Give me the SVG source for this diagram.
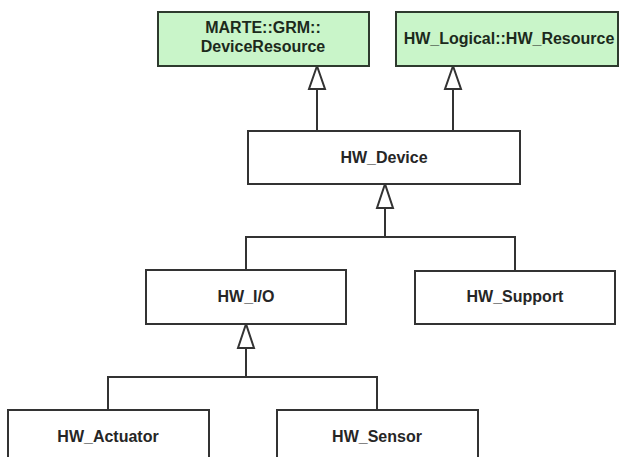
<svg xmlns="http://www.w3.org/2000/svg" width="621" height="457" viewBox="0 0 621 457">
<style>
.box{fill:#ffffff;stroke:#333333;stroke-width:2}
.green{fill:#c9f5c9;stroke:#2e3a2e;stroke-width:2}
.lbl{font-family:"Liberation Sans",Arial,sans-serif;font-size:16px;font-weight:bold;fill:#262626;text-anchor:middle}
.glbl{fill:#1c2a1c}
.line{fill:none;stroke:#333333;stroke-width:2}
.tri{fill:#ffffff;stroke:#333333;stroke-width:2;stroke-linejoin:miter}
</style>
<rect width="621" height="457" fill="#ffffff"/>
<g id="connectors">
<line class="line" x1="317" y1="131" x2="317" y2="89"/>
<polygon class="tri" points="317,66 309,89 325,89"/>
<line class="line" x1="453" y1="131" x2="453" y2="89"/>
<polygon class="tri" points="453,66 445,89 461,89"/>
<polyline class="line" points="246,270 246,237 515,237 515,271"/>
<line class="line" x1="385" y1="237" x2="385" y2="208"/>
<polygon class="tri" points="385,184 377,208 393,208"/>
<polyline class="line" points="108,410 108,377 377,377 377,410"/>
<line class="line" x1="246" y1="377" x2="246" y2="348"/>
<polygon class="tri" points="246,324 238,348 254,348"/>
</g>
<g id="marte">
<rect class="green" x="158" y="12" width="211" height="54"/>
<text class="lbl glbl" x="263" y="33">MARTE::GRM::</text>
<text class="lbl glbl" x="263" y="52">DeviceResource</text>
</g>
<g id="hwlogical">
<rect class="green" x="396" y="12" width="222" height="54"/>
<text class="lbl glbl" x="509" y="44">HW_Logical::HW_Resource</text>
</g>
<g id="hwdevice">
<rect class="box" x="248" y="131" width="272" height="53"/>
<text class="lbl" x="384" y="163">HW_Device</text>
</g>
<g id="hwio">
<rect class="box" x="146" y="270" width="200" height="54"/>
<text class="lbl" x="246" y="302">HW_I/O</text>
</g>
<g id="hwsupport">
<rect class="box" x="415" y="271" width="200" height="53"/>
<text class="lbl" x="515" y="302">HW_Support</text>
</g>
<g id="hwactuator">
<rect class="box" x="8" y="410" width="201" height="60"/>
<text class="lbl" x="108" y="442">HW_Actuator</text>
</g>
<g id="hwsensor">
<rect class="box" x="277" y="410" width="201" height="60"/>
<text class="lbl" x="377" y="442">HW_Sensor</text>
</g>
</svg>
